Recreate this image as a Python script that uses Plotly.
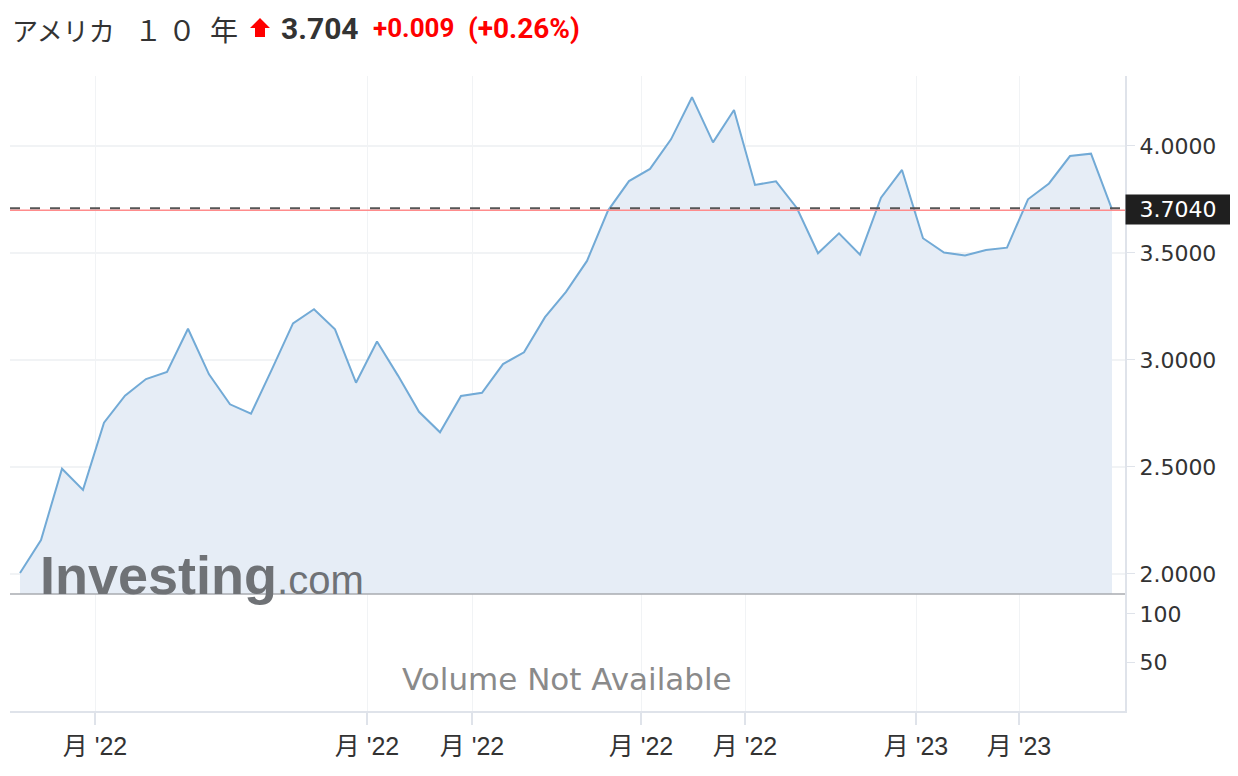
import pandas as pd
import plotly.graph_objects as go

# ---- data (weekly closes, US 10Y yield) ----
dates = pd.date_range("2022-03-11", periods=53, freq="7D")
yields = [2.005, 2.159, 2.492, 2.393, 2.707, 2.833, 2.911, 2.944, 3.146, 2.933,
          2.793, 2.749, 2.957, 3.171, 3.237, 3.143, 2.894, 3.086, 2.927, 2.758,
          2.662, 2.832, 2.847, 2.981, 3.036, 3.200, 3.318, 3.463, 3.698, 3.836,
          3.893, 4.031, 4.228, 4.017, 4.168, 3.818, 3.835, 3.709, 3.499, 3.592,
          3.492, 3.758, 3.888, 3.569, 3.502, 3.488, 3.514, 3.525, 3.751, 3.825,
          3.953, 3.964, 3.704]
last_value = yields[-1]

x_tick_dates = ["2022-04-05", "2022-07-04 16:00", "2022-08-08 16:00", "2022-10-04",
                "2022-11-07 16:00", "2023-01-03 16:00", "2023-02-07"]
x_tick_text = ["月 '22", "月 '22", "月 '22", "月 '22", "月 '22", "月 '23", "月 '23"]
price_ticks = [2.0, 2.5, 3.0, 3.5, 4.0]
volume_ticks = [50, 100]

title_kana = "アメリカ"
title_one = "１"
title_zero = "０"
title_year = "年"
title_price = "3.704"
title_change = "+0.009"
title_pct = "(+0.26%)"

# ---- figure ----
fig = go.Figure()
fig.add_trace(go.Scatter(
    x=dates, y=yields, mode="lines",
    line=dict(color="#72aad6", width=2),
    fill="tozeroy", fillcolor="#e6edf6",
    hoverinfo="skip", showlegend=False, yaxis="y"))
fig.add_trace(go.Scatter(x=[], y=[], yaxis="y2", showlegend=False, hoverinfo="skip"))

split = 0.18425
grid = "#f1f3f5"
axis_line = "#dfe3ea"

fig.update_layout(
    width=1238, height=776,
    margin=dict(l=2, r=121, t=68, b=73),
    paper_bgcolor="white", plot_bgcolor="white",
    hovermode=False,
    xaxis=dict(
        type="date", anchor="y2", domain=[0, 1],
        range=["2022-03-07 16:00", "2023-03-14 08:00"],
        tickvals=x_tick_dates, ticktext=x_tick_text,
        tickfont=dict(family="Liberation Sans, Noto Sans CJK JP", size=25, color="#333"),
        ticks="outside", ticklen=12, tickcolor=axis_line, tickwidth=2,
        showgrid=True, gridcolor=grid, gridwidth=1,
        showline=True, linecolor=axis_line, linewidth=2,
        zeroline=False,
    ),
    yaxis=dict(
        domain=[split, 1], anchor="x", side="right",
        range=[1.9065, 4.327],
        tickvals=price_ticks, tickformat=".4f",
        tickfont=dict(family="DejaVu Sans", size=22, color="#333"),
        ticks="outside", ticklen=8, tickcolor=axis_line,
        showgrid=True, gridcolor=grid, gridwidth=1.5,
        showline=True, linecolor=axis_line, linewidth=2,
        zeroline=False,
    ),
    yaxis2=dict(
        domain=[0, split], anchor="x", side="right",
        range=[-1, 120.8],
        tickvals=volume_ticks,
        tickfont=dict(family="DejaVu Sans", size=22, color="#333"),
        ticks="outside", ticklen=8, tickcolor=axis_line,
        showgrid=False,
        showline=True, linecolor=axis_line, linewidth=2,
        zeroline=False,
    ),
)

# separator between price and volume panes
fig.add_shape(type="line", xref="paper", yref="paper", x0=0, x1=1, y0=split, y1=split,
              line=dict(color="#a9abb0", width=1.5))
# current price lines
fig.add_shape(type="line", xref="paper", yref="y", x0=0, x1=1,
              ysizemode="pixel", yanchor=last_value, y0=-1, y1=-1,
              line=dict(color="#ff8c8c", width=1.5))
fig.add_shape(type="line", xref="paper", yref="y", x0=0, x1=1,
              ysizemode="pixel", yanchor=last_value, y0=1, y1=1,
              line=dict(color="#555555", width=2, dash="10px,10px"))

# price label on the axis
fig.add_annotation(x=1, xref="paper", y=last_value, yref="y", xanchor="left", yanchor="middle",
                   text=f"{last_value:.4f}", showarrow=False,
                   font=dict(family="DejaVu Sans", size=22, color="white"),
                   bgcolor="#1f1f1f", width=100, height=25, borderpad=2, align="center")


# positions of screen pixels, relative to the plot area (x 10..1125, y 76..711)
def px_x(px):
    return (px - 10) / 1115


def px_y(py):
    return (711 - py) / 635


# title row
fig.add_annotation(x=px_x(10), y=px_y(29.5), xref="paper", yref="paper", xanchor="left", yanchor="middle",
                   text=(f"<span style='font-size:26px'>{title_kana}</span>"
                         f"\u2002\u2009{title_one}\u2009{title_zero}\u2002{title_year}"),
                   showarrow=False,
                   font=dict(family="Noto Sans CJK JP", size=28, color="#333"))
# red up arrow
fig.add_shape(type="path", xref="paper", yref="paper",
              xsizemode="pixel", xanchor=px_x(260), ysizemode="pixel", yanchor=px_y(27.5),
              path="M -10,-0.5 L 0,9.5 L 10,-0.5 L 5,-0.5 L 5,-9.5 L -5,-9.5 L -5,-0.5 Z",
              fillcolor="#ff0000", line=dict(width=0))
fig.add_annotation(x=px_x(279), y=px_y(28), xref="paper", yref="paper", xanchor="left", yanchor="middle",
                   text=f"<b>{title_price}</b>", showarrow=False,
                   font=dict(family="Roboto", size=30, color="#333"))
fig.add_annotation(x=px_x(371), y=px_y(28), xref="paper", yref="paper", xanchor="left", yanchor="middle",
                   text=f"<b>{title_change}</b>", showarrow=False,
                   font=dict(family="Roboto", size=26, color="#ff0000"))
fig.add_annotation(x=px_x(466), y=px_y(28), xref="paper", yref="paper", xanchor="left", yanchor="middle",
                   text=f"<b>{title_pct}</b>", showarrow=False,
                   font=dict(family="Roboto", size=28, color="#ff0000"))

# watermark
fig.add_annotation(x=px_x(38), y=px_y(575), xref="paper", yref="paper", xanchor="left", yanchor="middle",
                   text="<b>Investing</b><span style='font-size:40px'>.com</span>", showarrow=False,
                   font=dict(family="Liberation Sans", size=54, color="#6f7276"))

# volume placeholder
fig.add_annotation(x=px_x(567), y=px_y(679), xref="paper", yref="paper", xanchor="center", yanchor="middle",
                   text="Volume Not Available", showarrow=False,
                   font=dict(family="DejaVu Sans", size=31, color="#8a8a8a"))

fig.write_html("out.html")
